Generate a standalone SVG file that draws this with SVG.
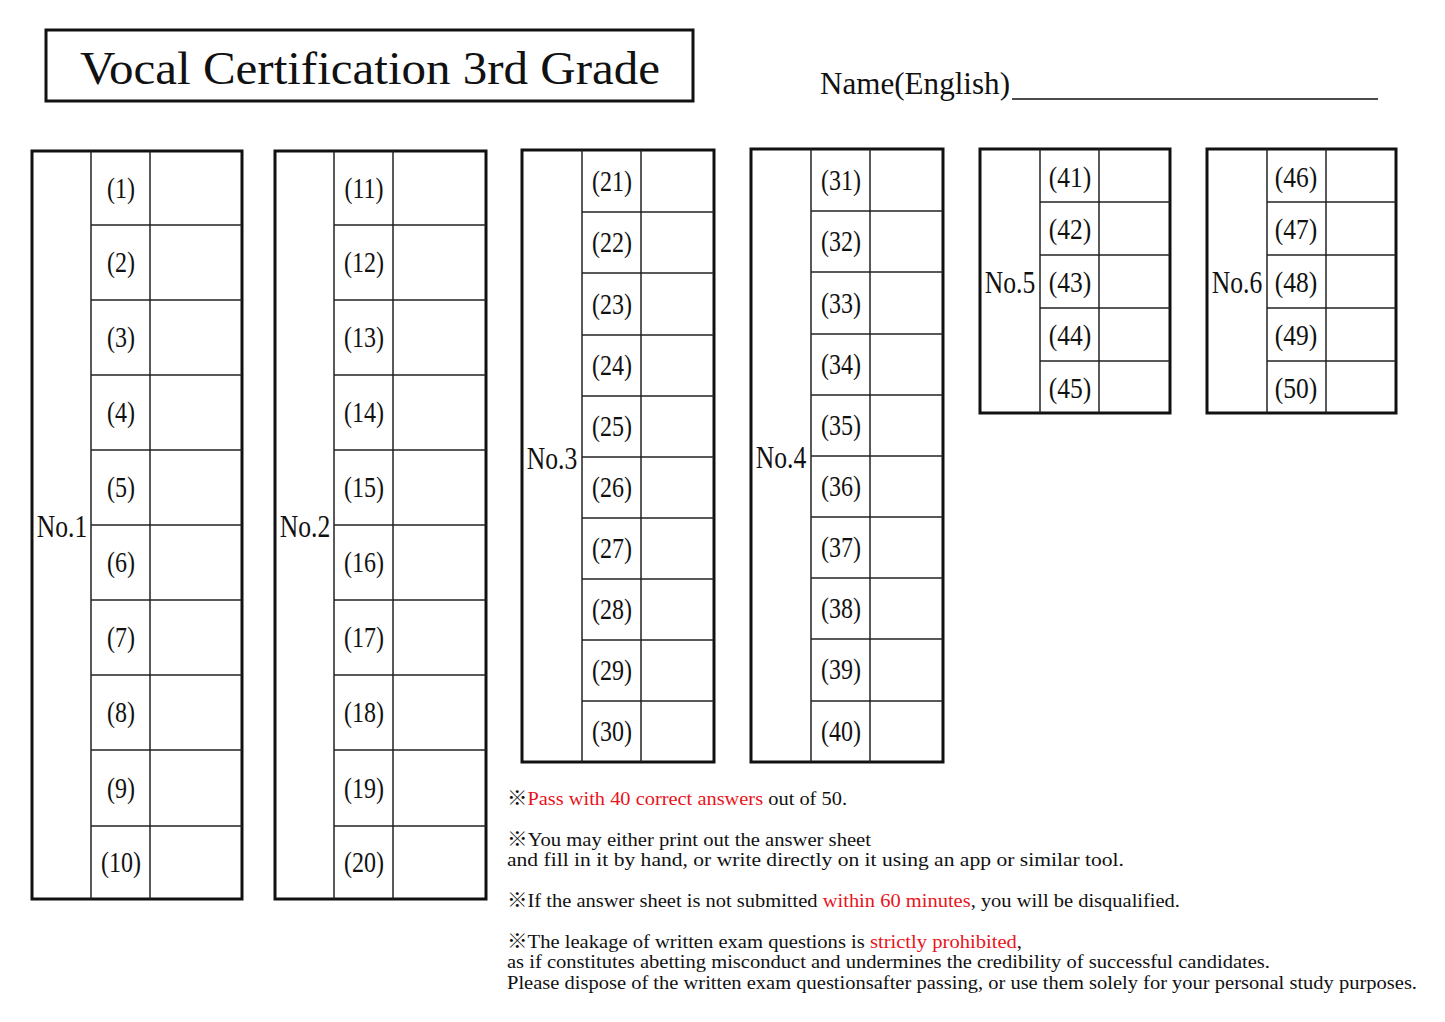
<svg xmlns="http://www.w3.org/2000/svg" width="1445" height="1022" viewBox="0 0 1445 1022">
<style>
.o{fill:none;stroke:#111;stroke-width:3}
.i{stroke:#222;stroke-width:1.5}
text{font-family:"Liberation Serif","Noto Serif CJK JP",serif;fill:#111}
.n{font-size:30px;text-anchor:middle}
.h{font-size:32px;text-anchor:middle}
.t{font-size:19px}
.r{fill:#e8141c}
</style>
<rect width="1445" height="1022" fill="#fff"/>
<g id="title">
<rect x="46" y="30" width="647" height="71" class="o"/>
<text x="370" y="84" font-size="46" text-anchor="middle" textLength="580" lengthAdjust="spacingAndGlyphs">Vocal Certification 3rd Grade</text>
</g>
<g id="name">
<text x="820" y="94" font-size="32" textLength="190" lengthAdjust="spacingAndGlyphs">Name(English)</text>
<line x1="1012" y1="99" x2="1378" y2="99" stroke="#111" stroke-width="1.5"/>
</g>
<g id="no1">
<rect x="32" y="151" width="210" height="748" class="o"/>
<g class="i"><line x1="91" y1="151" x2="91" y2="899"/><line x1="150" y1="151" x2="150" y2="899"/>
<line x1="91" y1="225" x2="242" y2="225"/><line x1="91" y1="300" x2="242" y2="300"/><line x1="91" y1="375" x2="242" y2="375"/><line x1="91" y1="450" x2="242" y2="450"/><line x1="91" y1="525" x2="242" y2="525"/><line x1="91" y1="600" x2="242" y2="600"/><line x1="91" y1="675" x2="242" y2="675"/><line x1="91" y1="750" x2="242" y2="750"/><line x1="91" y1="826" x2="242" y2="826"/></g>
<text class="h" transform="translate(62 537) scale(0.8 1)">No.1</text>
<text class="n" transform="translate(121 198) scale(0.8 1)">(1)</text>
<text class="n" transform="translate(121 272) scale(0.8 1)">(2)</text>
<text class="n" transform="translate(121 347) scale(0.8 1)">(3)</text>
<text class="n" transform="translate(121 422) scale(0.8 1)">(4)</text>
<text class="n" transform="translate(121 497) scale(0.8 1)">(5)</text>
<text class="n" transform="translate(121 572) scale(0.8 1)">(6)</text>
<text class="n" transform="translate(121 647) scale(0.8 1)">(7)</text>
<text class="n" transform="translate(121 722) scale(0.8 1)">(8)</text>
<text class="n" transform="translate(121 798) scale(0.8 1)">(9)</text>
<text class="n" transform="translate(121 872) scale(0.8 1)">(10)</text>
</g>
<g id="no2">
<rect x="275" y="151" width="211" height="748" class="o"/>
<g class="i"><line x1="334" y1="151" x2="334" y2="899"/><line x1="393" y1="151" x2="393" y2="899"/>
<line x1="334" y1="225" x2="486" y2="225"/><line x1="334" y1="300" x2="486" y2="300"/><line x1="334" y1="375" x2="486" y2="375"/><line x1="334" y1="450" x2="486" y2="450"/><line x1="334" y1="525" x2="486" y2="525"/><line x1="334" y1="600" x2="486" y2="600"/><line x1="334" y1="675" x2="486" y2="675"/><line x1="334" y1="750" x2="486" y2="750"/><line x1="334" y1="826" x2="486" y2="826"/></g>
<text class="h" transform="translate(305 537) scale(0.8 1)">No.2</text>
<text class="n" transform="translate(364 198) scale(0.8 1)">(11)</text>
<text class="n" transform="translate(364 272) scale(0.8 1)">(12)</text>
<text class="n" transform="translate(364 347) scale(0.8 1)">(13)</text>
<text class="n" transform="translate(364 422) scale(0.8 1)">(14)</text>
<text class="n" transform="translate(364 497) scale(0.8 1)">(15)</text>
<text class="n" transform="translate(364 572) scale(0.8 1)">(16)</text>
<text class="n" transform="translate(364 647) scale(0.8 1)">(17)</text>
<text class="n" transform="translate(364 722) scale(0.8 1)">(18)</text>
<text class="n" transform="translate(364 798) scale(0.8 1)">(19)</text>
<text class="n" transform="translate(364 872) scale(0.8 1)">(20)</text>
</g>
<g id="no3">
<rect x="522" y="150" width="192" height="612" class="o"/>
<g class="i"><line x1="582" y1="150" x2="582" y2="762"/><line x1="641" y1="150" x2="641" y2="762"/>
<line x1="582" y1="212" x2="714" y2="212"/><line x1="582" y1="273" x2="714" y2="273"/><line x1="582" y1="335" x2="714" y2="335"/><line x1="582" y1="396" x2="714" y2="396"/><line x1="582" y1="457" x2="714" y2="457"/><line x1="582" y1="518" x2="714" y2="518"/><line x1="582" y1="579" x2="714" y2="579"/><line x1="582" y1="640" x2="714" y2="640"/><line x1="582" y1="701" x2="714" y2="701"/></g>
<text class="h" transform="translate(552 469) scale(0.8 1)">No.3</text>
<text class="n" transform="translate(612 191) scale(0.8 1)">(21)</text>
<text class="n" transform="translate(612 252) scale(0.8 1)">(22)</text>
<text class="n" transform="translate(612 314) scale(0.8 1)">(23)</text>
<text class="n" transform="translate(612 375) scale(0.8 1)">(24)</text>
<text class="n" transform="translate(612 436) scale(0.8 1)">(25)</text>
<text class="n" transform="translate(612 497) scale(0.8 1)">(26)</text>
<text class="n" transform="translate(612 558) scale(0.8 1)">(27)</text>
<text class="n" transform="translate(612 619) scale(0.8 1)">(28)</text>
<text class="n" transform="translate(612 680) scale(0.8 1)">(29)</text>
<text class="n" transform="translate(612 741) scale(0.8 1)">(30)</text>
</g>
<g id="no4">
<rect x="751" y="149" width="192" height="613" class="o"/>
<g class="i"><line x1="811" y1="149" x2="811" y2="762"/><line x1="870" y1="149" x2="870" y2="762"/>
<line x1="811" y1="211" x2="943" y2="211"/><line x1="811" y1="272" x2="943" y2="272"/><line x1="811" y1="334" x2="943" y2="334"/><line x1="811" y1="395" x2="943" y2="395"/><line x1="811" y1="456" x2="943" y2="456"/><line x1="811" y1="517" x2="943" y2="517"/><line x1="811" y1="578" x2="943" y2="578"/><line x1="811" y1="639" x2="943" y2="639"/><line x1="811" y1="701" x2="943" y2="701"/></g>
<text class="h" transform="translate(781 468) scale(0.8 1)">No.4</text>
<text class="n" transform="translate(841 190) scale(0.8 1)">(31)</text>
<text class="n" transform="translate(841 251) scale(0.8 1)">(32)</text>
<text class="n" transform="translate(841 313) scale(0.8 1)">(33)</text>
<text class="n" transform="translate(841 374) scale(0.8 1)">(34)</text>
<text class="n" transform="translate(841 435) scale(0.8 1)">(35)</text>
<text class="n" transform="translate(841 496) scale(0.8 1)">(36)</text>
<text class="n" transform="translate(841 557) scale(0.8 1)">(37)</text>
<text class="n" transform="translate(841 618) scale(0.8 1)">(38)</text>
<text class="n" transform="translate(841 679) scale(0.8 1)">(39)</text>
<text class="n" transform="translate(841 741) scale(0.8 1)">(40)</text>
</g>
<g id="no5">
<rect x="980" y="149" width="190" height="264" class="o"/>
<g class="i"><line x1="1040" y1="149" x2="1040" y2="413"/><line x1="1099" y1="149" x2="1099" y2="413"/>
<line x1="1040" y1="202" x2="1170" y2="202"/><line x1="1040" y1="255" x2="1170" y2="255"/><line x1="1040" y1="308" x2="1170" y2="308"/><line x1="1040" y1="361" x2="1170" y2="361"/></g>
<text class="h" transform="translate(1010 293) scale(0.8 1)">No.5</text>
<text class="n" transform="translate(1070 187) scale(0.85 1)">(41)</text>
<text class="n" transform="translate(1070 239) scale(0.85 1)">(42)</text>
<text class="n" transform="translate(1070 292) scale(0.85 1)">(43)</text>
<text class="n" transform="translate(1070 345) scale(0.85 1)">(44)</text>
<text class="n" transform="translate(1070 398) scale(0.85 1)">(45)</text>
</g>
<g id="no6">
<rect x="1207" y="149" width="189" height="264" class="o"/>
<g class="i"><line x1="1267" y1="149" x2="1267" y2="413"/><line x1="1326" y1="149" x2="1326" y2="413"/>
<line x1="1267" y1="202" x2="1396" y2="202"/><line x1="1267" y1="255" x2="1396" y2="255"/><line x1="1267" y1="308" x2="1396" y2="308"/><line x1="1267" y1="361" x2="1396" y2="361"/></g>
<text class="h" transform="translate(1237 293) scale(0.8 1)">No.6</text>
<text class="n" transform="translate(1296 187) scale(0.85 1)">(46)</text>
<text class="n" transform="translate(1296 239) scale(0.85 1)">(47)</text>
<text class="n" transform="translate(1296 292) scale(0.85 1)">(48)</text>
<text class="n" transform="translate(1296 345) scale(0.85 1)">(49)</text>
<text class="n" transform="translate(1296 398) scale(0.85 1)">(50)</text>
</g>
<g id="notes">
<text class="t" x="507" y="805" textLength="340" lengthAdjust="spacingAndGlyphs">※<tspan class="r">Pass with 40 correct answers</tspan> out of 50.</text>
<text class="t" x="507" y="846" textLength="364" lengthAdjust="spacingAndGlyphs">※You may either print out the answer sheet</text>
<text class="t" x="507" y="866" textLength="617" lengthAdjust="spacingAndGlyphs">and fill in it by hand, or write directly on it using an app or similar tool.</text>
<text class="t" x="507" y="907" textLength="673" lengthAdjust="spacingAndGlyphs">※If the answer sheet is not submitted <tspan class="r">within 60 minutes</tspan>, you will be disqualified.</text>
<text class="t" x="507" y="948" textLength="515" lengthAdjust="spacingAndGlyphs">※The leakage of written exam questions is <tspan class="r">strictly prohibited</tspan>,</text>
<text class="t" x="507" y="968" textLength="763" lengthAdjust="spacingAndGlyphs">as if constitutes abetting misconduct and undermines the credibility of successful candidates.</text>
<text class="t" x="507" y="989" textLength="910" lengthAdjust="spacingAndGlyphs">Please dispose of the written exam questionsafter passing, or use them solely for your personal study purposes.</text>
</g>
</svg>
